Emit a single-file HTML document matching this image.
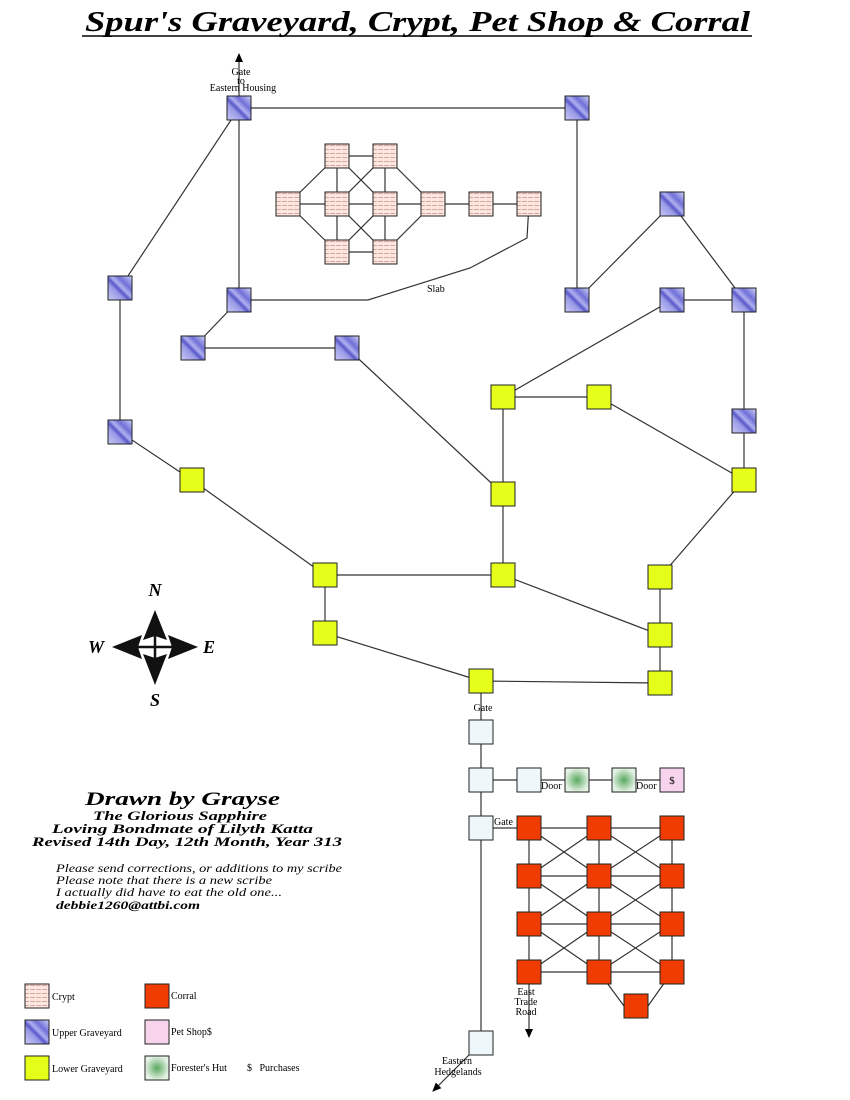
<!DOCTYPE html>
<html><head><meta charset="utf-8"><style>
body{margin:0;background:#fff;width:850px;height:1100px;overflow:hidden}
svg{display:block}
.t{font-family:"Liberation Serif",serif;font-size:10px;fill:#000}
.s{font-family:"Liberation Serif",serif;font-style:italic;font-weight:bold;fill:#000}
.i{font-family:"Liberation Serif",serif;font-style:italic;font-size:12px;fill:#000}
</style></head><body>
<svg width="850" height="1100" viewBox="0 0 850 1100" xmlns="http://www.w3.org/2000/svg">
<defs>
<linearGradient id="up" x1="0" y1="1" x2="1" y2="0">
<stop offset="0" stop-color="#c8c8f4"/><stop offset="0.35" stop-color="#9a9ae8"/><stop offset="0.45" stop-color="#5858c8"/><stop offset="0.55" stop-color="#b0b0f0"/><stop offset="0.7" stop-color="#7070d8"/><stop offset="1" stop-color="#d0d0f8"/>
</linearGradient>
<pattern id="cr" width="6" height="4" patternUnits="userSpaceOnUse">
<rect width="6" height="4" fill="#fbe6e0"/><rect y="1" width="5" height="1" fill="#d9a89c"/>
</pattern>
<radialGradient id="fh"><stop offset="0" stop-color="#5aa860"/><stop offset="1" stop-color="#e4f2e4"/></radialGradient>
<marker id="ar" markerWidth="10" markerHeight="10" refX="8" refY="5" orient="auto" markerUnits="userSpaceOnUse"><path d="M0,1 L9,5 L0,9 Z" fill="#000"/></marker>
</defs>

<text x="85" y="31" class="s" font-size="29" textLength="665" lengthAdjust="spacingAndGlyphs">Spur's Graveyard, Crypt, Pet Shop &amp; Corral</text>
<line x1="82" y1="36" x2="752" y2="36" stroke="#000" stroke-width="1.5"/>

<g stroke="#333" stroke-width="1.2" fill="none">
<line x1="239" y1="96" x2="239" y2="54" marker-end="url(#ar)"/>
<line x1="239" y1="108" x2="577" y2="108"/>
<line x1="239" y1="108" x2="120" y2="288"/>
<line x1="239" y1="108" x2="239" y2="300"/>
<line x1="577" y1="108" x2="577" y2="300"/>
<line x1="577" y1="300" x2="672" y2="204"/>
<line x1="672" y1="204" x2="744" y2="300"/>
<line x1="672" y1="300" x2="744" y2="300"/>
<line x1="744" y1="300" x2="744" y2="480"/>
<line x1="120" y1="288" x2="120" y2="432"/>
<line x1="239" y1="300" x2="193" y2="348"/>
<line x1="193" y1="348" x2="347" y2="348"/>
<polyline points="239,300 368,300 470,268 527,238 529,204"/>
<line x1="347" y1="348" x2="503" y2="494"/>
<line x1="503" y1="397" x2="599" y2="397"/>
<line x1="503" y1="397" x2="503" y2="575"/>
<line x1="503" y1="397" x2="672" y2="300"/>
<line x1="599" y1="397" x2="744" y2="480"/>
<line x1="120" y1="432" x2="192" y2="480"/>
<line x1="192" y1="480" x2="325" y2="575"/>
<line x1="325" y1="575" x2="503" y2="575"/>
<line x1="503" y1="575" x2="660" y2="635"/>
<line x1="744" y1="480" x2="660" y2="577"/>
<line x1="660" y1="577" x2="660" y2="683"/>
<line x1="325" y1="575" x2="325" y2="633"/>
<line x1="325" y1="633" x2="481" y2="681"/>
<line x1="481" y1="681" x2="660" y2="683"/>
<line x1="481" y1="681" x2="481" y2="1043"/>
<line x1="481" y1="780" x2="672" y2="780"/>
<line x1="481" y1="828" x2="529" y2="828"/>
<line x1="481" y1="1043" x2="433" y2="1091" marker-end="url(#ar)"/>
<line x1="529" y1="972" x2="529" y2="1037" marker-end="url(#ar)"/>
<line x1="337" y1="156" x2="385" y2="156"/>
<line x1="337" y1="252" x2="385" y2="252"/>
<line x1="288" y1="204" x2="529" y2="204"/>
<line x1="288" y1="204" x2="337" y2="156"/>
<line x1="288" y1="204" x2="337" y2="252"/>
<line x1="433" y1="204" x2="385" y2="156"/>
<line x1="433" y1="204" x2="385" y2="252"/>
<line x1="337" y1="156" x2="337" y2="252"/>
<line x1="385" y1="156" x2="385" y2="252"/>
<line x1="337" y1="156" x2="385" y2="204"/>
<line x1="385" y1="156" x2="337" y2="204"/>
<line x1="337" y1="204" x2="385" y2="252"/>
<line x1="385" y1="204" x2="337" y2="252"/>
<line x1="529" y1="828" x2="672" y2="828"/>
<line x1="529" y1="876" x2="672" y2="876"/>
<line x1="529" y1="924" x2="672" y2="924"/>
<line x1="529" y1="972" x2="672" y2="972"/>
<line x1="529" y1="828" x2="529" y2="972"/>
<line x1="599" y1="828" x2="599" y2="972"/>
<line x1="672" y1="828" x2="672" y2="972"/>
<line x1="529" y1="828" x2="599" y2="876"/><line x1="599" y1="828" x2="529" y2="876"/>
<line x1="599" y1="828" x2="672" y2="876"/><line x1="672" y1="828" x2="599" y2="876"/>
<line x1="529" y1="876" x2="599" y2="924"/><line x1="599" y1="876" x2="529" y2="924"/>
<line x1="599" y1="876" x2="672" y2="924"/><line x1="672" y1="876" x2="599" y2="924"/>
<line x1="529" y1="924" x2="599" y2="972"/><line x1="599" y1="924" x2="529" y2="972"/>
<line x1="599" y1="924" x2="672" y2="972"/><line x1="672" y1="924" x2="599" y2="972"/>
<polyline points="599,972 624,1006 648,1006 672,972"/>
</g>

<g stroke="#222" stroke-width="1">
<g fill="url(#up)">
<rect x="227" y="96" width="24" height="24"/><rect x="565" y="96" width="24" height="24"/>
<rect x="108" y="276" width="24" height="24"/><rect x="227" y="288" width="24" height="24"/>
<rect x="181" y="336" width="24" height="24"/><rect x="335" y="336" width="24" height="24"/>
<rect x="108" y="420" width="24" height="24"/><rect x="660" y="192" width="24" height="24"/>
<rect x="565" y="288" width="24" height="24"/><rect x="660" y="288" width="24" height="24"/>
<rect x="732" y="288" width="24" height="24"/><rect x="732" y="409" width="24" height="24"/>
</g>
<g fill="url(#cr)">
<rect x="325" y="144" width="24" height="24"/><rect x="373" y="144" width="24" height="24"/>
<rect x="276" y="192" width="24" height="24"/><rect x="325" y="192" width="24" height="24"/>
<rect x="373" y="192" width="24" height="24"/><rect x="421" y="192" width="24" height="24"/>
<rect x="469" y="192" width="24" height="24"/><rect x="517" y="192" width="24" height="24"/>
<rect x="325" y="240" width="24" height="24"/><rect x="373" y="240" width="24" height="24"/>
</g>
<g fill="#e6ff1a">
<rect x="491" y="385" width="24" height="24"/><rect x="587" y="385" width="24" height="24"/>
<rect x="180" y="468" width="24" height="24"/><rect x="491" y="482" width="24" height="24"/>
<rect x="732" y="468" width="24" height="24"/><rect x="313" y="563" width="24" height="24"/>
<rect x="491" y="563" width="24" height="24"/><rect x="648" y="565" width="24" height="24"/>
<rect x="313" y="621" width="24" height="24"/><rect x="648" y="623" width="24" height="24"/>
<rect x="469" y="669" width="24" height="24"/><rect x="648" y="671" width="24" height="24"/>
</g>
<g fill="#eef8fa">
<rect x="469" y="720" width="24" height="24"/><rect x="469" y="768" width="24" height="24"/>
<rect x="517" y="768" width="24" height="24"/><rect x="469" y="816" width="24" height="24"/>
<rect x="469" y="1031" width="24" height="24"/>
</g>
<g fill="url(#fh)">
<rect x="565" y="768" width="24" height="24"/><rect x="612" y="768" width="24" height="24"/>
</g>
<rect x="660" y="768" width="24" height="24" fill="#f8d4ec"/>
<g fill="#f03c00">
<rect x="517" y="816" width="24" height="24"/><rect x="587" y="816" width="24" height="24"/><rect x="660" y="816" width="24" height="24"/>
<rect x="517" y="864" width="24" height="24"/><rect x="587" y="864" width="24" height="24"/><rect x="660" y="864" width="24" height="24"/>
<rect x="517" y="912" width="24" height="24"/><rect x="587" y="912" width="24" height="24"/><rect x="660" y="912" width="24" height="24"/>
<rect x="517" y="960" width="24" height="24"/><rect x="587" y="960" width="24" height="24"/><rect x="660" y="960" width="24" height="24"/>
<rect x="624" y="994" width="24" height="24"/>
</g>
<rect x="25" y="984" width="24" height="24" fill="url(#cr)"/>
<rect x="25" y="1020" width="24" height="24" fill="url(#up)"/>
<rect x="25" y="1056" width="24" height="24" fill="#e6ff1a"/>
<rect x="145" y="984" width="24" height="24" fill="#f03c00"/>
<rect x="145" y="1020" width="24" height="24" fill="#f8d4ec"/>
<rect x="145" y="1056" width="24" height="24" fill="url(#fh)"/>
</g>

<g class="t">
<text x="241" y="75" text-anchor="middle">Gate</text>
<text x="241" y="84" text-anchor="middle">to</text>
<text x="243" y="91" text-anchor="middle">Eastern Housing</text>
<text x="427" y="292">Slab</text>
<text x="483" y="711" text-anchor="middle">Gate</text>
<text x="541" y="789">Door</text>
<text x="636" y="789">Door</text>
<text x="672" y="784" text-anchor="middle" font-size="11">$</text>
<text x="494" y="825">Gate</text>
<text x="526" y="995" text-anchor="middle">East</text>
<text x="526" y="1005" text-anchor="middle">Trade</text>
<text x="526" y="1015" text-anchor="middle">Road</text>
<text x="457" y="1064" text-anchor="middle">Eastern</text>
<text x="458" y="1075" text-anchor="middle">Hedgelands</text>
<text x="52" y="1000">Crypt</text>
<text x="52" y="1036">Upper Graveyard</text>
<text x="52" y="1072">Lower Graveyard</text>
<text x="171" y="999">Corral</text>
<text x="171" y="1035">Pet Shop$</text>
<text x="171" y="1071">Forester's Hut</text>
<text x="247" y="1071">$&#160;&#160;&#160;Purchases</text>
</g>

<g fill="#111">
<polygon points="155,610 167,640 155,636 143,640"/>
<polygon points="155,685 167,654 155,658 143,654"/>
<polygon points="112,647 142,635 138,647 142,659"/>
<polygon points="198,647 168,635 172,647 168,659"/>
</g>
<g stroke="#111" stroke-width="2.5"><line x1="155" y1="630" x2="155" y2="664"/><line x1="136" y1="647" x2="174" y2="647"/></g>
<text x="155" y="596" text-anchor="middle" class="s" font-size="18">N</text>
<text x="96" y="653" text-anchor="middle" class="s" font-size="18">W</text>
<text x="209" y="653" text-anchor="middle" class="s" font-size="18">E</text>
<text x="155" y="706" text-anchor="middle" class="s" font-size="18">S</text>

<g class="s">
<text x="85" y="805" font-size="19" textLength="195" lengthAdjust="spacingAndGlyphs">Drawn by Grayse</text>
<text x="93" y="820" font-size="13" textLength="174" lengthAdjust="spacingAndGlyphs">The Glorious Sapphire</text>
<text x="52" y="833" font-size="13" textLength="261" lengthAdjust="spacingAndGlyphs">Loving Bondmate of Lilyth Katta</text>
<text x="32" y="846" font-size="13" textLength="310" lengthAdjust="spacingAndGlyphs">Revised 14th Day, 12th Month, Year 313</text>
</g>
<text x="56" y="872" class="i" textLength="286" lengthAdjust="spacingAndGlyphs">Please send corrections, or additions to my scribe</text>
<text x="56" y="884" class="i" textLength="216" lengthAdjust="spacingAndGlyphs">Please note that there is a new scribe</text>
<text x="56" y="896" class="i" textLength="226" lengthAdjust="spacingAndGlyphs">I actually did have to eat the old one...</text>
<text x="56" y="909" class="s" font-size="12" textLength="144" lengthAdjust="spacingAndGlyphs">debbie1260@attbi.com</text>
</svg>
</body></html>
